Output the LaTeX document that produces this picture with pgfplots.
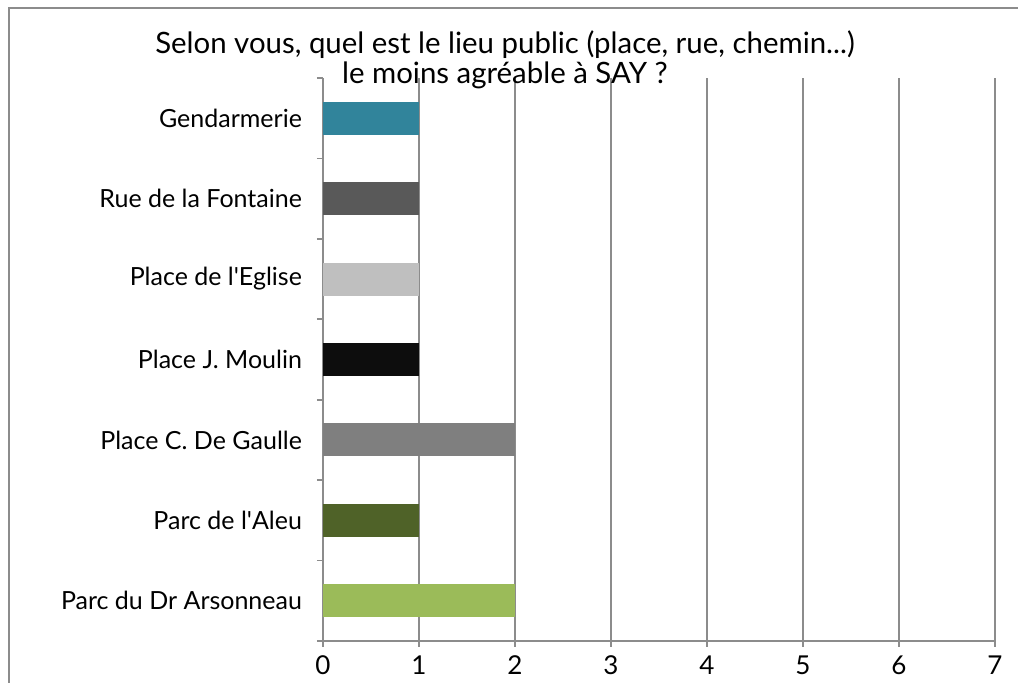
\documentclass[border=0pt]{standalone}
\usepackage{fontspec}
\setmainfont{Lato}
\usepackage{pgfplots}
\pgfplotsset{compat=1.18}
\definecolor{c1}{HTML}{31849B}
\definecolor{c2}{HTML}{595959}
\definecolor{c3}{HTML}{BFBFBF}
\definecolor{c4}{HTML}{0D0D0D}
\definecolor{c5}{HTML}{7F7F7F}
\definecolor{c6}{HTML}{4F6228}
\definecolor{c7}{HTML}{9BBB59}
\definecolor{gridc}{HTML}{8C8C8C}
\begin{document}
\begin{tikzpicture}
\path[use as bounding box] (0,0) rectangle (509pt,341.5pt);
\draw[gridc, line width=1pt] (4.5pt,-5pt) -- (4.5pt,337.5pt) -- (520pt,337.5pt);
\begin{axis}[
  at={(161.5pt,21pt)}, anchor=south west,
  scale only axis, width=336pt, height=281.5pt,
  xmin=0, xmax=7, ymin=-0.5, ymax=6.5,
  axis lines=left,
  axis line style={-, gridc, line width=0.8pt},
  xtick={0,1,...,7},
  xmajorgrids, grid style={gridc, line width=0.8pt},
  ytick={0,1,2,3,4,5,6},
  yticklabels={Parc du Dr Arsonneau,Parc de l\textquotesingle Aleu,Place C. De Gaulle,Place J. Moulin,Place de l\textquotesingle Eglise,Rue de la Fontaine,Gendarmerie},
  minor ytick={-0.5,0.5,...,6.5},
  tick align=outside,
  major tick length=3pt,
  minor tick length=3pt,
  every tick/.style={gridc, line width=0.8pt},
  y tick style={draw=none},
  minor y tick style={draw=gridc, line width=0.8pt},
  xticklabel style={font=\fontsize{13}{14}\selectfont, yshift=-1pt},
  yticklabel style={font=\fontsize{12.5}{14}\selectfont, xshift=-4pt},
  /pgf/number format/assume math mode=true,
  xbar, bar width=16.5pt, bar shift=0pt,
  clip=false,
]
\addplot[fill=c7, draw=none] coordinates {(2,0)};
\addplot[fill=c6, draw=none] coordinates {(1,1)};
\addplot[fill=c5, draw=none] coordinates {(2,2)};
\addplot[fill=c4, draw=none] coordinates {(1,3)};
\addplot[fill=c3, draw=none] coordinates {(1,4)};
\addplot[fill=c2, draw=none] coordinates {(1,5)};
\addplot[fill=c1, draw=none] coordinates {(1,6)};
\end{axis}
\node[align=center, font=\fontsize{14.7}{15}\selectfont] at (252.5pt,311.5pt) {Selon vous, quel est le lieu public (place, rue, chemin...)\\le moins agréable à SAY ?};
\end{tikzpicture}
\end{document}
